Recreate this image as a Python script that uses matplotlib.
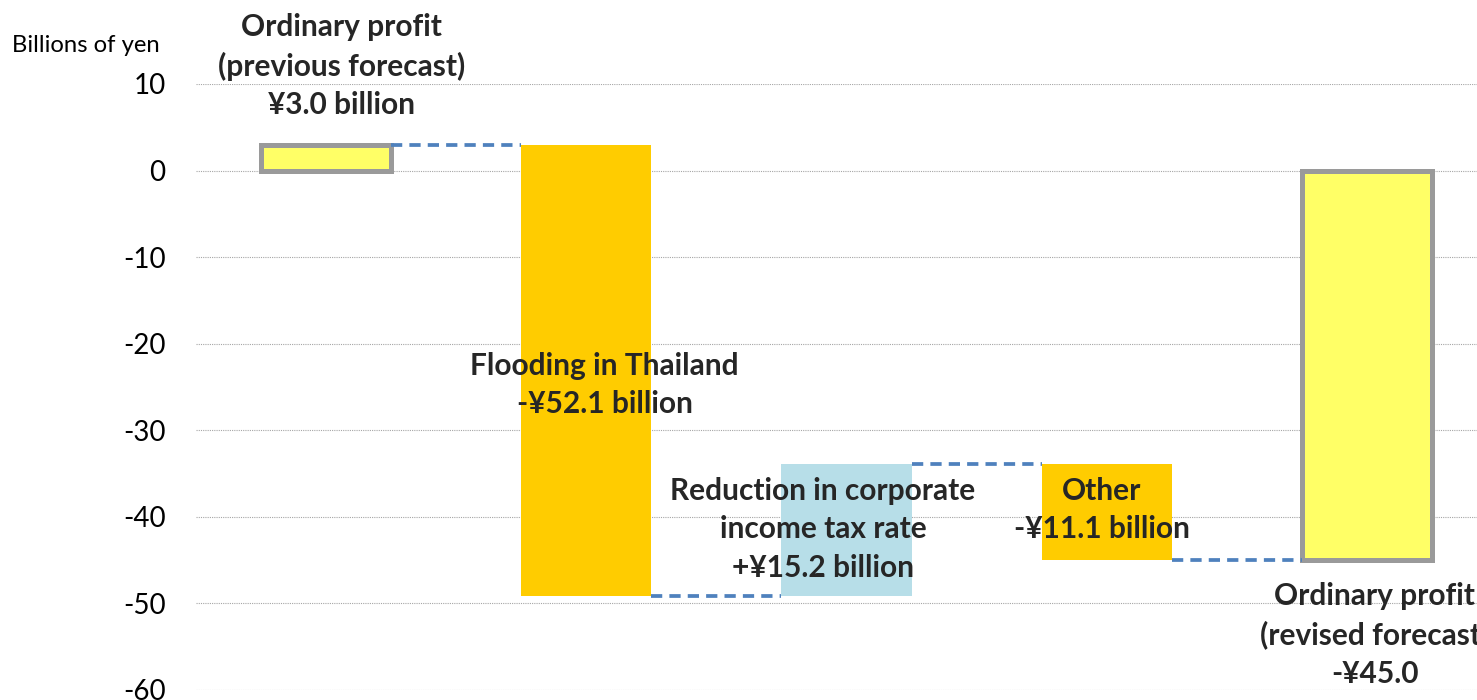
import numpy as np
import matplotlib.pyplot as plt

# waterfall: previous forecast -> factors -> revised forecast (billions of yen)
start_value = 3.0
changes = [-52.1, 15.2, -11.1]
labels = [
    "Ordinary profit\n(previous forecast)\n¥3.0 billion",
    "Flooding in Thailand\n-¥52.1 billion",
    "Reduction in corporate\nincome tax rate\n+¥15.2 billion",
    "Other\n-¥11.1 billion",
    "Ordinary profit\n(revised forecast)\n-¥45.0",
]
yticks = [10, 0, -10, -20, -30, -40, -50, -60]

end_value = start_value + sum(changes)
levels = np.cumsum([start_value] + changes)  # running totals
bottoms = [0] + list(levels[:-1]) + [0]
heights = [start_value] + changes + [end_value]

yellow = "#FFFF66"
orange = "#FFCC00"
blue_lt = "#B7DEE8"
edge = "#9A9A9A"
conn = "#4F81BD"
txt = "#262626"

plt.rcParams['font.family'] = ['Lato', 'DejaVu Sans']

fig = plt.figure(figsize=(14.77, 7), dpi=100)
ax = fig.add_axes([196/1477, 10/700, 1301/1477, 606/700])

x = np.arange(5)
colors = [yellow, orange, blue_lt, orange, yellow]
for i in range(5):
    if i in (0, 4):
        ax.bar(x[i], heights[i], 0.5, bottom=bottoms[i], color=colors[i],
               edgecolor=edge, linewidth=3.6, zorder=3)
    else:
        ax.bar(x[i], heights[i], 0.5, bottom=bottoms[i], color=colors[i],
               linewidth=0, zorder=3)

# connectors between bars
for i, lv in enumerate(levels):
    ax.plot([x[i] + 0.25, x[i + 1] - 0.25], [lv, lv], color=conn, lw=2.7,
            dashes=(3.0, 1.9), zorder=4, solid_capstyle='butt')

ax.set_xlim(-0.5, 4.5)
ax.set_ylim(-60, 10)
ax.set_yticks(yticks)
ax.set_yticklabels([str(t) for t in yticks], fontsize=20, color="#000000")
ax.set_xticks([])
ax.tick_params(axis='y', length=0, pad=22)
for s in ax.spines.values():
    s.set_visible(False)
ax.grid(axis='y', color="#A6A6A6", linestyle=(0, (1, 1)), linewidth=0.8, zorder=0)
ax.set_axisbelow(True)

fig.text(12/1477, 1 - 45/700, "Billions of yen", fontsize=17.2, va='center', ha='left')

tx = [0.06, 1.07, 1.91, 2.98, 4.03]
ty = [18.2, -20.9, -35.4, -35.4, -47.5]
for i in range(5):
    ax.text(tx[i], ty[i], labels[i], ha='center', va='top', fontsize=21.5,
            fontweight='bold', color=txt, linespacing=1.45, zorder=5, clip_on=False)

fig.savefig("out.png", dpi=100)
